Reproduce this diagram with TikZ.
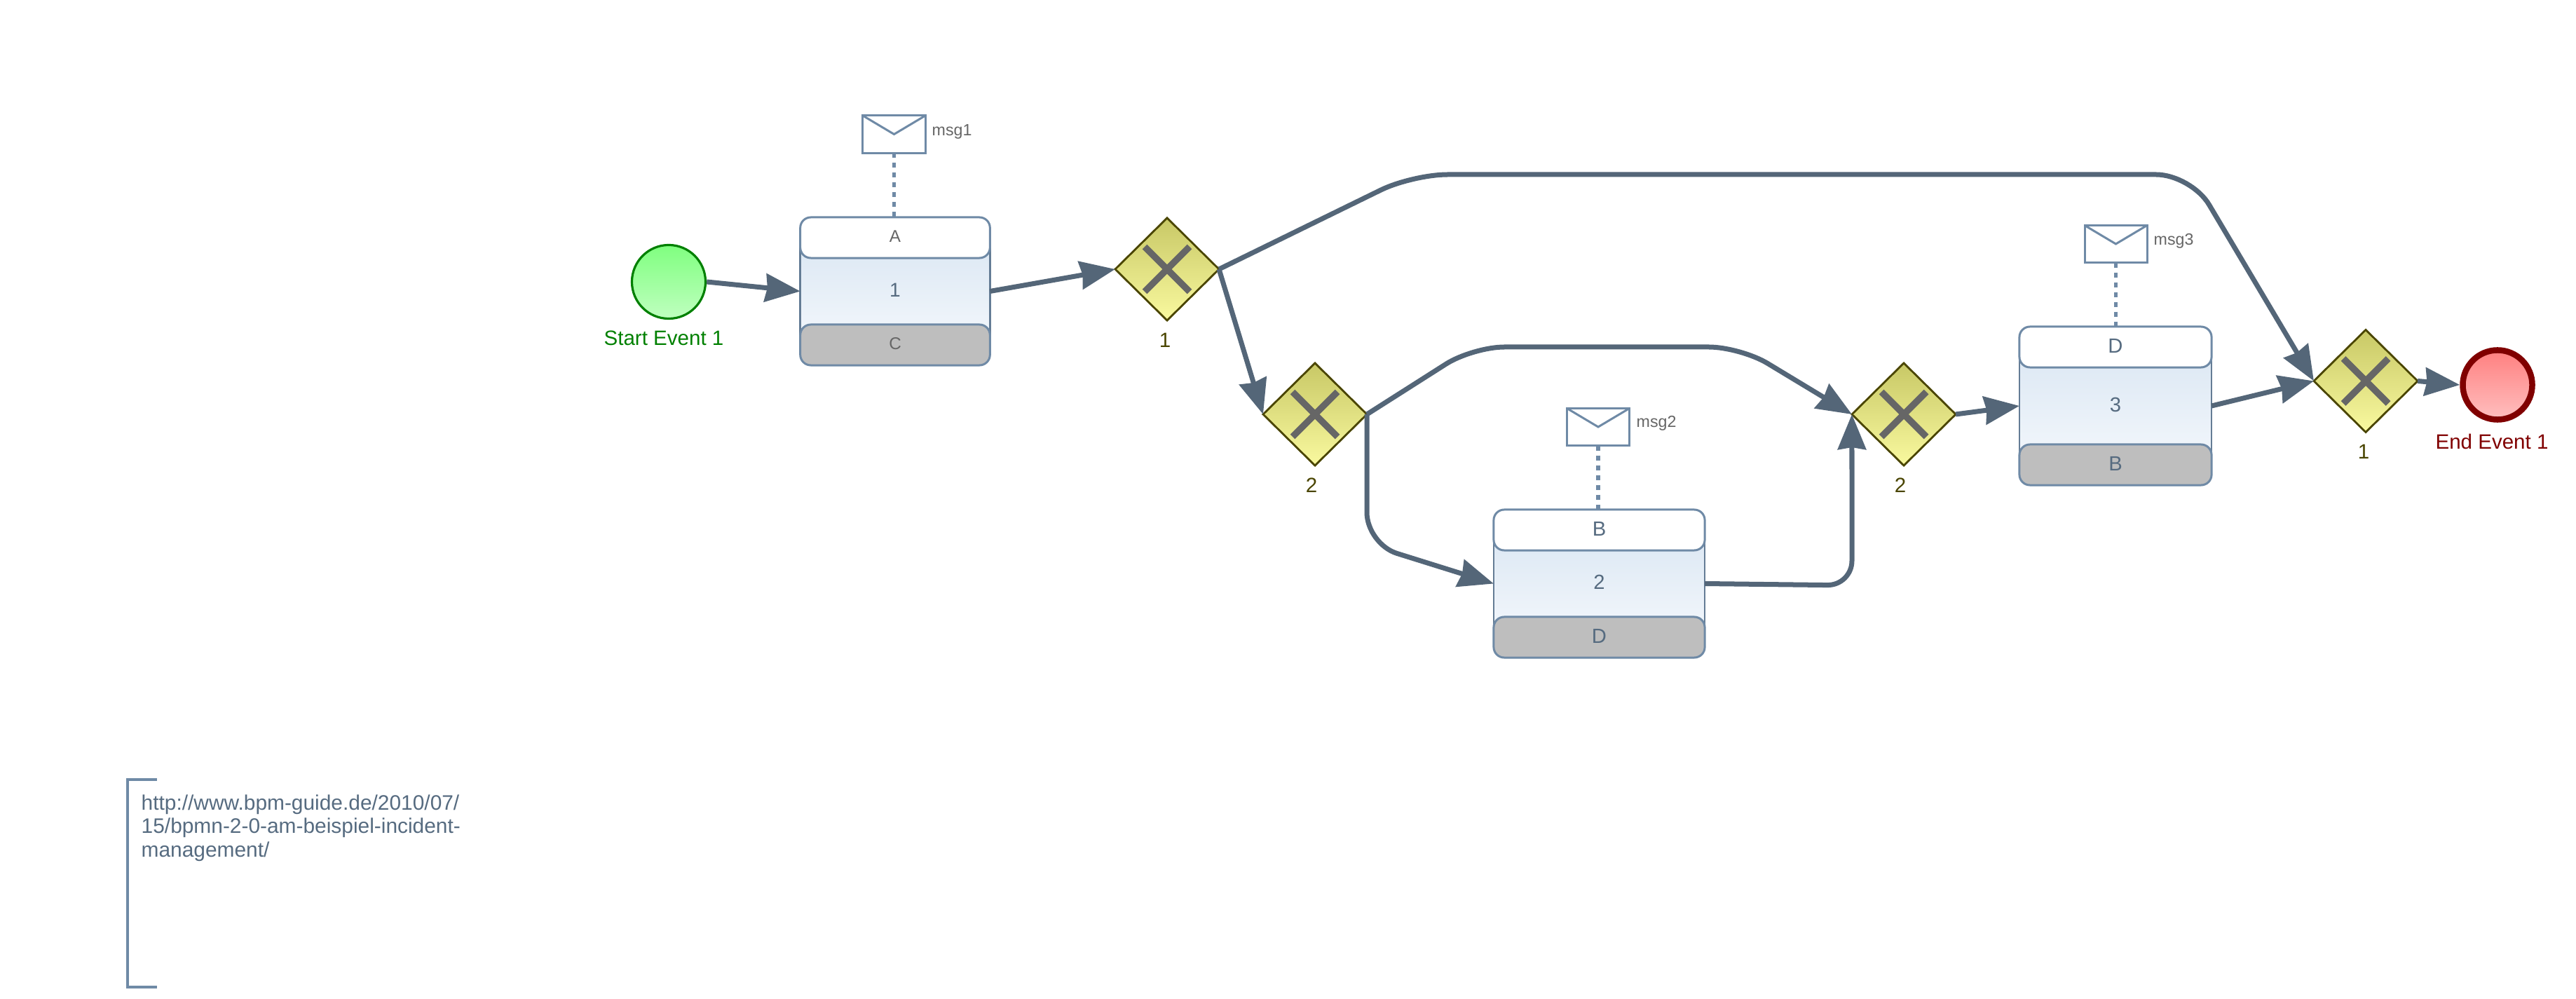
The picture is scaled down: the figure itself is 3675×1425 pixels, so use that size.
\documentclass[tikz,border=0pt]{standalone}
\usepackage{fontspec}
\setmainfont{Liberation Sans}
\usetikzlibrary{arrows.meta, shapes.geometric}

\definecolor{flowcol}{HTML}{546678}
\definecolor{taskedge}{HTML}{6F8AA6}
\definecolor{taskink}{HTML}{566B80}
\definecolor{grayink}{HTML}{666666}
\definecolor{gateedge}{HTML}{4A4500}
\definecolor{okgreen}{HTML}{008000}
\definecolor{stopred}{HTML}{800000}
\definecolor{taskbodytop}{HTML}{DBE7F3}
\definecolor{taskbodybot}{HTML}{F3F7FC}
\definecolor{footgray}{HTML}{BEBEBE}
\definecolor{gatetop}{HTML}{C8C866}
\definecolor{gatebot}{HTML}{F9F99F}

\tikzset{
  flow/.style={flowcol, line width=0.07cm, -{Stealth[length=0.5cm, width=0.4cm, inset=0.03cm]}},
  assoc/.style={taskedge, line width=0.055cm, dash pattern=on 0.07cm off 0.07cm},
  bodybox/.style={draw=taskedge!90!black, line width=0.025cm, top color=taskbodytop, bottom color=taskbodybot,
    minimum height=#1, inner sep=0pt, outer sep=0pt, text=taskink, text depth=0.04cm},
  headbox/.style={draw=taskedge, line width=0.03cm, fill=white, rounded corners=0.15cm,
    minimum height=0.58cm, inner sep=0pt, outer sep=0pt, text=taskink, text depth=0.04cm},
  footbox/.style={headbox, fill=footgray},
  gateway/.style={diamond, aspect=1, draw=gateedge, line width=0.028cm, top color=gatetop, bottom color=gatebot,
    minimum width=1.48cm, minimum height=1.46cm, inner sep=0pt, outer sep=0pt,
    path picture={
      \draw[grayink, line width=0.095cm] (path picture bounding box.center) +(-32,-32) -- +(32,32);
      \draw[grayink, line width=0.095cm] (path picture bounding box.center) +(-32,32) -- +(32,-32);
    }},
  letter/.style={draw=taskedge, line width=0.03cm, fill=white, minimum width=0.89cm, minimum height=0.53cm, inner sep=0pt, outer sep=0pt,
    path picture={
      \draw[taskedge, line width=0.03cm] (path picture bounding box.north west) -- (path picture bounding box.center) -- (path picture bounding box.north east);
    }},
  msglabel/.style={anchor=west, inner sep=0pt, text=grayink, font=\fontsize{6.6}{8}\selectfont},
  biglabel/.style={inner sep=0pt, font=\fontsize{8.4}{9.5}\selectfont},
}

\begin{document}
\begin{tikzpicture}[x=0.01cm, y=-0.01cm]
  \useasboundingbox (0,0) rectangle (3675,1425);

  % Events
  \node[circle, draw=okgreen, line width=0.032cm, top color=green!50!white, bottom color=green!25!white, minimum size=1.05cm, inner sep=0pt, outer sep=0.016cm] (startev) at (954,402) {};
  \node[biglabel, text=okgreen] (startlbl) at (947,482) {Start Event 1};
  \node[circle, draw=stopred, line width=0.085cm, top color=red!50!white, bottom color=red!25!white, minimum size=0.99cm, inner sep=0pt, outer sep=0.0425cm] (endev) at (3563,549) {};
  \node[biglabel, text=stopred] (endlbl) at (3555,630) {End Event 1};

  % Task 1
  \node[bodybox=1.53cm, minimum width=2.705cm, font=\fontsize{8}{9.5}\selectfont] (taska) at (1277,415.5) {1};
  \node[headbox, minimum width=2.705cm, text=grayink, font=\fontsize{6.9}{8}\selectfont] (heada) at (1277,339) {A};
  \node[footbox, minimum width=2.705cm, text=grayink, font=\fontsize{6.9}{8}\selectfont] (foota) at (1277,492) {C};

  % Task 2
  \node[bodybox=1.53cm, minimum width=3.01cm, font=\fontsize{8.3}{9.5}\selectfont] (taskb) at (2281.5,832.5) {2};
  \node[headbox, minimum width=3.01cm, font=\fontsize{8.3}{9.5}\selectfont] (headb) at (2281.5,756) {B};
  \node[footbox, minimum width=3.01cm, font=\fontsize{8.3}{9.5}\selectfont] (footb) at (2281.5,909) {D};

  % Task 3
  \node[bodybox=1.68cm, minimum width=2.74cm, font=\fontsize{8.3}{9.5}\selectfont] (taskc) at (3018,579) {3};
  \node[headbox, minimum width=2.74cm, font=\fontsize{8.3}{9.5}\selectfont] (headc) at (3018,495) {D};
  \node[footbox, minimum width=2.74cm, font=\fontsize{8.3}{9.5}\selectfont] (footc) at (3018,663) {B};

  % Messages
  \node[letter] (msga) at (1275.5,191.5) {};
  \node[msglabel] (msgalbl) at (1329,188) {msg1};
  \node[letter] (msgb) at (2280,609) {};
  \node[msglabel] (msgblbl) at (2334,604) {msg2};
  \node[letter] (msgc) at (3018.5,348) {};
  \node[msglabel] (msgclbl) at (3072,344) {msg3};

  \draw[assoc] (msga.south) -- (msga.south |- heada.north);
  \draw[assoc] (msgb.south) -- (msgb.south |- headb.north);
  \draw[assoc] (msgc.south) -- (msgc.south |- headc.north);

  % Gateways
  \node[gateway] (gwa) at (1665,384) {};
  \node[biglabel, text=gateedge] (gwalbl) at (1662,485) {1};
  \node[gateway] (gwb) at (1876,591) {};
  \node[biglabel, text=gateedge] (gwblbl) at (1871,692) {2};
  \node[gateway] (gwc) at (2716,591) {};
  \node[biglabel, text=gateedge] (gwclbl) at (2711,692) {2};
  \node[gateway] (gwd) at (3375,543.5) {};
  \node[biglabel, text=gateedge] (gwdlbl) at (3372,644) {1};

  % Sequence flows
  \draw[flow] (startev.east) -- (taska.west);
  \draw[flow] (taska.east) -- (gwa.west);
  \draw[flow] (gwa.east) -- (gwb.west);
  \draw[flow, rounded corners=0.5cm] (gwa.east) -- (2015,249) -- (3126,249) -- (gwd.west);
  \draw[flow, rounded corners=0.45cm] (gwb.east) -- (2101,495) -- (2483,495) -- (gwc.west);
  \draw[flow, rounded corners=0.45cm] (gwb.east) -- (1950,776) -- (taskb.west);
  \draw[flow, rounded corners=0.35cm] (taskb.east) -- (2642,835) -- (gwc.west);
  \draw[flow] (gwc.east) -- (taskc.west);
  \draw[flow] (taskc.east) -- (gwd.west);
  \draw[flow] (gwd.east) -- (endev.west);

  % Annotation
  \draw[taskedge, line width=0.04cm] (224,1112) -- (182,1112) -- (182,1408) -- (224,1408);
  \node[anchor=north west, inner sep=0pt, align=left, text=taskink, font=\fontsize{8.5}{9.5}\selectfont] (notetxt) at (201,1133)
    {http://www.bpm-guide.de/2010/07/\\15/bpmn-2-0-am-beispiel-incident-\\management/};
\end{tikzpicture}
\end{document}
